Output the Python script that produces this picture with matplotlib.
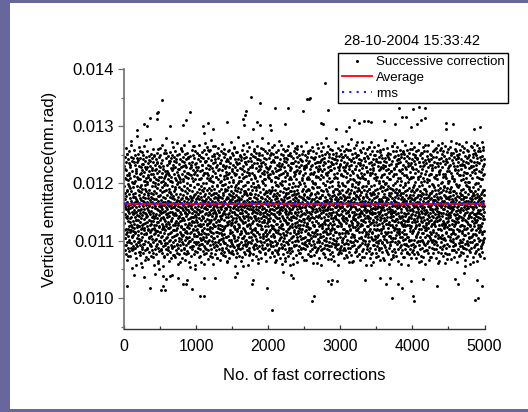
"""Vertical emittance after successive fast corrections (Origin-style export)."""
import numpy as np
import matplotlib

matplotlib.use("Agg")
import matplotlib.pyplot as plt
from matplotlib.lines import Line2D
from matplotlib.patches import Rectangle

# Dense band of measurements: emittance offset above BASE, in units of STEP.
# band_* and band2_* cover the same 1000 corrections, interleaved.
BASE = 0.0100
STEP = 1e-5

band_0k = [
    172, 131, 196, 158, 104, 183, 147, 226, 163, 121, 178, 92, 155, 207, 139, 168, 251, 144, 187, 116, 160, 73, 199, 152, 134,
    181, 126, 163, 214, 148, 97, 175, 139, 192, 157, 232, 119, 170, 141, 268, 186, 128, 151, 108, 165, 203, 84, 159, 177, 135,
    146, 193, 117, 162, 238, 154, 129, 176, 201, 142, 88, 167, 184, 113, 150, 221, 136, 173, 57, 158, 196, 124, 145, 244, 169,
    153, 110, 188, 137, 166, 209, 98, 179, 143, 161, 125, 256, 174, 149, 194, 132, 81, 171, 218, 156, 140, 185, 102, 164, 127,
    190, 145, 122, 170, 234, 151, 177, 94, 160, 138, 205, 182, 118, 155, 66, 174, 197, 131, 148, 228, 163, 112, 186, 142, 276,
    157, 133, 199, 167, 86, 144, 212, 175, 121, 153, 180, 106, 162, 241, 136, 189, 150, 127, 171, 95, 208, 146, 165, 119, 183,
    130, 176, 152, 224, 141, 168, 103, 195, 158, 135, 79, 181, 149, 216, 164, 123, 172, 248, 139, 187, 157, 114, 161, 200, 143,
    166, 91, 184, 147, 128, 173, 236, 155, 117, 192, 140, 169, 61, 154, 206, 133, 178, 99, 160, 145, 222, 126, 188, 151, 262,
    137, 179, 115, 159, 202, 148, 171, 85, 163, 130, 194, 156, 109, 185, 142, 231, 167, 124, 150, 176, 71, 198, 138, 162, 120,
    174, 152, 213, 134, 96, 167, 146, 189, 158, 253, 126, 180, 141, 164, 107, 197, 155, 132, 219, 170, 148, 83, 185, 160, 129,
    143, 191, 122, 168, 239, 150, 176, 101, 157, 137, 205, 182, 116, 162, 273, 139, 174, 151, 89, 195, 127, 166, 227, 147, 178,
    159, 118, 186, 145, 75, 172, 131, 210, 163, 149, 190, 110, 156, 243, 135, 181, 167, 123, 154, 199, 93, 171, 140, 215, 153,
    128, 177, 161, 105, 193, 144, 169, 226, 134, 158, 182, 63, 150, 203, 125, 173, 146, 260, 165, 112, 188, 139, 157, 98, 175,
    162, 140, 208, 153, 120, 179, 87, 164, 196, 136, 170, 233, 148, 115, 186, 158, 129, 174, 77, 155, 211, 143, 167, 104, 192,
    147, 183, 124, 160, 246, 138, 172, 154, 100, 189, 131, 166, 217, 151, 178, 113, 163, 54, 198, 142, 175, 127, 157, 229, 169,
    135, 171, 155, 90, 187, 149, 121, 176, 204, 141, 164, 265, 132, 180, 152, 108, 193, 145, 168, 82, 159, 220, 137, 173, 150,
]
band_1k = [
    168, 142, 119, 185, 156, 223, 133, 174, 97, 161, 199, 147, 128, 178, 250, 153, 112, 190, 139, 166, 74, 183, 150, 207, 125,
    159, 176, 136, 94, 195, 162, 117, 144, 232, 171, 152, 103, 187, 130, 165, 214, 141, 178, 59, 157, 123, 192, 146, 169, 240,
    134, 181, 158, 111, 200, 149, 173, 86, 163, 127, 219, 155, 189, 138, 167, 99, 176, 145, 258, 160, 121, 184, 151, 206, 131,
    172, 146, 209, 124, 161, 188, 78, 154, 137, 179, 115, 196, 164, 143, 227, 170, 129, 157, 182, 105, 148, 266, 175, 138, 160,
    154, 191, 126, 167, 242, 140, 177, 151, 92, 184, 133, 162, 211, 147, 116, 174, 198, 158, 69, 171, 136, 223, 153, 180, 122,
    187, 134, 165, 101, 150, 203, 143, 177, 128, 159, 236, 168, 113, 190, 156, 139, 175, 84, 161, 197, 145, 126, 183, 253, 149,
    163, 118, 179, 152, 213, 137, 170, 96, 186, 146, 157, 125, 199, 166, 230, 141, 172, 107, 155, 189, 64, 164, 132, 177, 209,
    142, 175, 160, 129, 193, 80, 168, 148, 218, 135, 181, 154, 114, 171, 245, 158, 127, 186, 144, 167, 102, 195, 151, 137, 173,
    178, 131, 202, 157, 91, 165, 140, 183, 124, 262, 150, 176, 161, 109, 188, 146, 215, 169, 133, 155, 72, 180, 139, 197, 163,
    145, 186, 120, 171, 234, 153, 130, 176, 159, 88, 192, 142, 166, 205, 127, 174, 149, 111, 185, 138, 248, 160, 173, 117, 156,
    190, 137, 161, 225, 148, 104, 178, 154, 131, 196, 167, 56, 144, 182, 158, 121, 212, 170, 140, 163, 95, 186, 152, 238, 133,
    166, 150, 114, 184, 143, 171, 203, 125, 157, 270, 179, 136, 162, 98, 191, 147, 174, 129, 219, 155, 168, 82, 183, 141, 160,
    127, 175, 155, 196, 106, 163, 139, 181, 229, 148, 170, 118, 188, 152, 76, 166, 135, 201, 159, 177, 144, 110, 193, 256, 150,
    181, 143, 167, 123, 210, 156, 92, 174, 137, 189, 161, 242, 130, 172, 149, 115, 197, 153, 168, 68, 179, 140, 224, 158, 135,
    159, 194, 128, 170, 100, 151, 185, 146, 236, 163, 120, 177, 139, 204, 155, 87, 174, 160, 132, 190, 149, 261, 165, 112, 182,
    144, 168, 208, 136, 157, 79, 183, 151, 126, 173, 197, 141, 164, 108, 186, 154, 227, 131, 170, 147, 93, 178, 161, 214, 138,
]
band_2k = [
    161, 134, 189, 152, 116, 175, 227, 145, 168, 99, 183, 140, 156, 206, 128, 171, 254, 149, 186, 122, 164, 81, 193, 155, 137,
    178, 147, 125, 166, 239, 153, 181, 108, 160, 135, 212, 172, 119, 188, 143, 62, 167, 198, 130, 157, 221, 142, 175, 96, 150,
    139, 184, 158, 113, 195, 163, 76, 170, 146, 231, 124, 179, 152, 201, 134, 165, 104, 187, 148, 268, 159, 127, 173, 216, 144,
    171, 129, 197, 154, 88, 168, 140, 185, 121, 159, 244, 176, 136, 162, 110, 192, 150, 178, 70, 155, 205, 133, 181, 146, 164,
    152, 190, 115, 174, 142, 218, 160, 97, 183, 131, 168, 250, 147, 123, 176, 157, 199, 138, 84, 169, 153, 228, 126, 187, 141,
    186, 137, 163, 208, 149, 107, 179, 155, 130, 194, 166, 59, 144, 173, 236, 158, 118, 182, 141, 162, 92, 196, 151, 177, 131,
    148, 170, 124, 181, 161, 222, 139, 175, 101, 156, 189, 145, 265, 167, 128, 184, 150, 114, 171, 203, 136, 160, 79, 178, 157,
    165, 143, 199, 127, 157, 86, 176, 152, 241, 134, 168, 120, 187, 159, 210, 146, 173, 105, 191, 138, 164, 226, 149, 66, 180,
    133, 182, 158, 117, 195, 147, 171, 233, 125, 163, 93, 186, 154, 140, 177, 207, 129, 168, 151, 257, 112, 175, 144, 190, 160,
    174, 151, 102, 188, 136, 165, 217, 148, 179, 123, 159, 74, 183, 146, 169, 230, 132, 157, 194, 141, 172, 109, 162, 201, 127,
    156, 192, 140, 172, 89, 160, 126, 181, 247, 150, 167, 116, 199, 143, 176, 135, 213, 155, 61, 170, 152, 185, 119, 164, 238,
    142, 168, 211, 131, 183, 157, 98, 174, 145, 193, 162, 128, 225, 153, 177, 106, 188, 139, 166, 271, 148, 180, 122, 159, 85,
    180, 126, 164, 200, 150, 115, 186, 141, 169, 237, 133, 158, 77, 176, 154, 197, 137, 163, 121, 190, 147, 216, 171, 100, 155,
    153, 187, 137, 171, 111, 159, 220, 144, 182, 127, 168, 90, 193, 149, 161, 252, 131, 175, 156, 118, 202, 140, 173, 68, 164,
    169, 145, 196, 122, 178, 155, 234, 134, 162, 103, 185, 151, 140, 209, 166, 129, 180, 94, 158, 191, 143, 172, 116, 243, 150,
    138, 176, 159, 92, 190, 147, 169, 210, 125, 163, 181, 58, 153, 136, 198, 172, 114, 186, 145, 228, 160, 131, 177, 83, 167,
]
band_3k = [
    157, 183, 129, 168, 215, 146, 174, 102, 189, 139, 161, 247, 152, 120, 180, 143, 198, 165, 87, 171, 135, 223, 156, 178, 113,
    172, 140, 196, 154, 75, 166, 131, 185, 233, 148, 177, 117, 160, 203, 137, 170, 95, 191, 150, 162, 259, 126, 181, 145, 168,
    143, 177, 121, 163, 208, 155, 183, 98, 171, 134, 241, 158, 188, 127, 166, 63, 151, 195, 142, 175, 110, 160, 219, 138, 184,
    185, 150, 167, 106, 194, 138, 226, 159, 173, 124, 155, 82, 180, 147, 203, 165, 132, 187, 272, 153, 118, 176, 141, 164, 199,
    131, 164, 188, 147, 91, 172, 156, 210, 125, 179, 143, 168, 236, 152, 104, 185, 160, 137, 194, 71, 169, 149, 213, 128, 174,
    160, 195, 136, 176, 153, 244, 119, 165, 189, 145, 99, 170, 157, 207, 132, 181, 163, 115, 150, 229, 178, 85, 143, 187, 154,
    176, 125, 162, 201, 140, 168, 107, 190, 152, 264, 134, 173, 148, 120, 184, 160, 218, 139, 167, 57, 156, 195, 131, 179, 146,
    150, 182, 113, 171, 223, 157, 185, 136, 93, 164, 148, 197, 127, 174, 250, 155, 168, 103, 189, 142, 161, 212, 133, 78, 177,
    166, 138, 190, 157, 120, 178, 144, 238, 161, 100, 183, 151, 170, 129, 205, 147, 173, 88, 159, 192, 136, 167, 255, 150, 118,
    139, 173, 154, 211, 131, 186, 162, 96, 169, 145, 227, 176, 123, 158, 193, 140, 67, 181, 153, 164, 109, 199, 147, 176, 230,
    188, 147, 169, 112, 163, 200, 136, 175, 155, 81, 190, 142, 166, 246, 129, 172, 151, 115, 184, 159, 207, 133, 179, 98, 156,
    152, 178, 127, 192, 148, 168, 221, 141, 183, 105, 160, 137, 174, 266, 153, 124, 188, 163, 143, 198, 72, 170, 150, 216, 134,
    171, 135, 160, 185, 97, 176, 152, 234, 128, 167, 190, 146, 116, 180, 157, 204, 138, 162, 86, 174, 149, 242, 165, 121, 187,
    144, 189, 158, 117, 197, 164, 140, 179, 209, 132, 155, 60, 173, 151, 183, 128, 166, 225, 142, 177, 106, 160, 193, 137, 169,
    183, 130, 172, 149, 251, 161, 111, 186, 143, 168, 200, 125, 157, 92, 179, 146, 214, 170, 135, 163, 189, 80, 154, 174, 138,
    161, 148, 203, 134, 176, 158, 101, 192, 141, 169, 232, 122, 180, 153, 165, 69, 187, 145, 174, 126, 210, 156, 133, 261, 172,
]
band_4k = [
    146, 179, 163, 118, 193, 152, 225, 137, 171, 89, 185, 158, 132, 202, 166, 145, 249, 174, 127, 160, 107, 188, 150, 176, 140,
    167, 191, 134, 158, 211, 143, 76, 180, 155, 121, 196, 168, 147, 238, 130, 173, 161, 99, 186, 141, 164, 219, 152, 65, 178,
    139, 162, 197, 149, 113, 184, 157, 230, 126, 170, 142, 181, 94, 159, 205, 136, 175, 153, 267, 148, 118, 190, 165, 131, 182,
    175, 154, 128, 187, 166, 83, 151, 208, 138, 177, 160, 243, 123, 169, 145, 195, 108, 163, 180, 135, 216, 156, 172, 72, 148,
    158, 136, 183, 162, 102, 175, 144, 199, 227, 153, 129, 187, 167, 116, 150, 256, 171, 141, 193, 86, 164, 178, 132, 209, 155,
    189, 146, 171, 125, 214, 160, 139, 181, 97, 168, 152, 235, 134, 176, 157, 110, 198, 147, 61, 173, 162, 222, 128, 184, 143,
    151, 177, 120, 166, 192, 138, 262, 158, 174, 105, 185, 149, 163, 130, 203, 170, 143, 90, 189, 156, 217, 135, 168, 180, 124,
    170, 131, 196, 155, 79, 178, 161, 128, 213, 146, 186, 240, 139, 165, 114, 192, 152, 174, 133, 68, 159, 201, 145, 176, 160,
    135, 185, 149, 172, 231, 127, 163, 190, 101, 157, 141, 178, 254, 150, 120, 194, 167, 137, 209, 159, 84, 173, 153, 187, 118,
    180, 156, 114, 169, 147, 204, 134, 186, 161, 92, 175, 145, 224, 165, 129, 183, 152, 270, 140, 171, 106, 196, 158, 138, 178,
    147, 193, 160, 132, 245, 154, 177, 117, 168, 143, 198, 74, 183, 151, 164, 214, 126, 172, 141, 189, 157, 98, 179, 234, 136,
    164, 128, 180, 153, 207, 140, 173, 87, 190, 158, 121, 167, 232, 145, 176, 110, 185, 149, 163, 56, 197, 134, 170, 155, 218,
    176, 150, 123, 195, 161, 96, 182, 139, 170, 246, 130, 157, 191, 145, 166, 104, 203, 174, 127, 160, 81, 187, 148, 229, 169,
    142, 187, 165, 109, 178, 151, 220, 134, 173, 159, 193, 63, 155, 183, 140, 168, 258, 125, 179, 147, 112, 199, 162, 136, 174,
    186, 133, 159, 200, 144, 118, 176, 165, 237, 149, 181, 95, 170, 127, 190, 154, 141, 210, 163, 77, 178, 148, 172, 124, 195,
    153, 172, 139, 182, 91, 166, 208, 147, 175, 131, 160, 226, 185, 115, 156, 169, 264, 143, 188, 102, 161, 138, 180, 216, 150,
]

band2_0k = [
    93, 231, 118, 247, 172, 84, 209, 105, 262, 141, 77, 224, 112, 238, 189, 98, 215, 66, 251, 121, 156, 88, 206, 109, 243,
    219, 101, 256, 82, 195, 236, 115, 73, 228, 133, 210, 96, 274, 119, 247, 87, 164, 222, 107, 52, 240, 124, 201, 91, 181,
    110, 245, 86, 213, 148, 99, 258, 122, 232, 79, 205, 176, 116, 249, 94, 226, 137, 70, 218, 104, 283, 127, 237, 90, 211,
    252, 97, 208, 117, 241, 81, 186, 230, 103, 264, 125, 217, 75, 153, 244, 92, 207, 113, 229, 61, 198, 120, 255, 85, 223,
    106, 234, 89, 250, 130, 213, 78, 242, 111, 168, 220, 95, 266, 123, 204, 83, 239, 100, 191, 226, 72, 246, 114, 146, 209,
    229, 87, 202, 126, 257, 98, 235, 68, 214, 119, 183, 248, 105, 221, 80, 160, 240, 93, 206, 277, 116, 231, 74, 252, 135,
    91, 216, 108, 244, 174, 84, 227, 121, 260, 97, 203, 143, 71, 238, 112, 212, 58, 250, 128, 223, 102, 195, 86, 233, 118,
    243, 103, 225, 76, 207, 132, 254, 94, 218, 117, 237, 65, 199, 110, 261, 88, 178, 230, 124, 211, 82, 247, 99, 152, 228,
    115, 249, 83, 212, 139, 96, 235, 107, 268, 78, 219, 163, 120, 241, 90, 204, 126, 55, 226, 101, 253, 113, 210, 187, 73,
    222, 92, 259, 118, 200, 85, 244, 129, 216, 104, 280, 96, 233, 147, 77, 221, 111, 248, 89, 208, 170, 123, 239, 64, 214,
    100, 236, 124, 205, 81, 255, 114, 185, 227, 93, 245, 69, 211, 134, 250, 106, 224, 87, 202, 118, 263, 97, 232, 158, 75,
    247, 108, 217, 90, 240, 127, 71, 229, 102, 257, 194, 119, 206, 84, 238, 145, 95, 270, 112, 220, 79, 249, 131, 203, 60,
    88, 225, 141, 252, 99, 212, 76, 234, 115, 166, 243, 92, 208, 124, 262, 83, 229, 103, 190, 216, 70, 240, 109, 256, 137,
    231, 94, 246, 110, 205, 86, 268, 121, 221, 78, 237, 150, 101, 213, 67, 251, 117, 229, 92, 176, 242, 106, 218, 82, 200,
    113, 254, 79, 219, 128, 244, 96, 210, 62, 235, 107, 275, 123, 197, 89, 227, 139, 248, 100, 214, 74, 232, 116, 161, 258,
    209, 85, 238, 132, 103, 250, 118, 223, 90, 265, 142, 76, 216, 111, 245, 97, 182, 234, 57, 207, 125, 257, 94, 228, 108,
]
band2_1k = [
    236, 97, 214, 121, 253, 80, 199, 109, 242, 147, 88, 228, 116, 267, 93, 207, 173, 72, 249, 104, 221, 130, 85, 239, 112,
    101, 247, 126, 210, 63, 233, 95, 255, 118, 188, 224, 82, 244, 107, 201, 140, 76, 259, 114, 218, 91, 169, 237, 99, 271,
    218, 87, 240, 106, 227, 155, 78, 251, 120, 209, 96, 263, 129, 233, 68, 215, 111, 245, 84, 192, 225, 102, 256, 136, 74,
    117, 230, 92, 258, 133, 205, 85, 241, 109, 276, 100, 213, 165, 71, 248, 122, 222, 94, 236, 59, 203, 113, 252, 89, 184,
    248, 104, 219, 77, 238, 125, 266, 97, 211, 144, 83, 229, 116, 254, 90, 196, 232, 108, 70, 244, 127, 208, 98, 262, 151,
    86, 226, 113, 250, 177, 94, 235, 66, 215, 120, 257, 103, 204, 138, 79, 241, 110, 223, 88, 269, 119, 197, 75, 231, 105,
    233, 99, 261, 123, 207, 81, 246, 112, 190, 227, 73, 252, 96, 214, 157, 106, 239, 87, 220, 62, 243, 128, 210, 93, 257,
    108, 240, 84, 217, 146, 258, 101, 229, 69, 202, 118, 247, 91, 180, 236, 114, 273, 78, 212, 131, 98, 253, 115, 225, 82,
    221, 95, 249, 110, 232, 76, 206, 159, 126, 264, 89, 218, 105, 242, 56, 228, 120, 194, 100, 255, 84, 216, 134, 238, 92,
    102, 255, 79, 224, 117, 200, 90, 243, 107, 281, 171, 95, 235, 124, 211, 73, 250, 112, 227, 86, 149, 246, 98, 204, 65,
    241, 113, 216, 88, 259, 135, 71, 230, 104, 209, 92, 268, 122, 186, 245, 80, 222, 109, 252, 99, 198, 117, 237, 77, 213,
    90, 234, 101, 247, 162, 83, 220, 127, 256, 95, 203, 58, 239, 114, 226, 142, 87, 263, 106, 215, 75, 244, 123, 181, 97,
    228, 78, 251, 115, 207, 96, 240, 67, 219, 131, 274, 102, 232, 154, 89, 248, 111, 201, 85, 236, 121, 260, 93, 214, 108,
    119, 246, 94, 212, 139, 227, 73, 254, 103, 193, 235, 87, 266, 116, 205, 99, 243, 61, 221, 128, 168, 250, 82, 230, 112,
    254, 91, 226, 107, 241, 81, 213, 125, 262, 97, 176, 231, 70, 249, 120, 218, 93, 279, 109, 200, 143, 86, 238, 104, 222,
    98, 217, 132, 245, 76, 234, 115, 257, 88, 208, 153, 101, 229, 64, 242, 118, 185, 253, 95, 220, 111, 271, 84, 211, 126,
]
band2_2k = [
    225, 103, 244, 86, 210, 134, 258, 95, 231, 72, 216, 119, 249, 163, 90, 237, 108, 204, 79, 263, 125, 222, 98, 188, 241,
    112, 252, 91, 219, 147, 74, 238, 106, 268, 121, 203, 84, 246, 99, 227, 178, 67, 255, 115, 212, 93, 233, 130, 197, 81,
    247, 96, 223, 118, 258, 83, 209, 140, 236, 102, 275, 88, 214, 156, 111, 243, 70, 226, 123, 251, 94, 199, 107, 230, 60,
    89, 234, 127, 205, 100, 249, 76, 218, 114, 261, 171, 92, 240, 105, 228, 65, 212, 136, 256, 86, 221, 117, 245, 97, 183,
    238, 110, 259, 80, 215, 129, 242, 95, 192, 232, 73, 266, 120, 207, 88, 250, 150, 101, 224, 78, 253, 113, 211, 58, 236,
    104, 227, 87, 248, 166, 97, 235, 124, 270, 82, 201, 109, 244, 141, 69, 220, 116, 257, 91, 213, 186, 126, 239, 100, 262,
    216, 93, 254, 112, 231, 75, 208, 133, 246, 106, 223, 63, 260, 117, 195, 99, 237, 84, 218, 160, 122, 249, 90, 229, 108,
    120, 243, 78, 222, 103, 266, 145, 88, 233, 115, 206, 96, 252, 71, 240, 128, 214, 174, 105, 257, 87, 227, 138, 201, 94,
    231, 85, 250, 107, 219, 158, 97, 241, 67, 228, 118, 272, 101, 210, 90, 246, 131, 189, 113, 235, 77, 254, 124, 212, 102,
    96, 239, 121, 208, 82, 258, 110, 225, 139, 73, 247, 104, 219, 181, 92, 264, 116, 232, 86, 204, 152, 100, 244, 61, 217,
    257, 114, 220, 94, 243, 127, 75, 236, 108, 200, 164, 89, 253, 119, 228, 80, 212, 135, 269, 98, 238, 111, 193, 84, 226,
    87, 221, 103, 262, 143, 99, 230, 70, 248, 125, 207, 91, 237, 174, 112, 256, 83, 215, 106, 241, 57, 222, 130, 250, 96,
    242, 109, 233, 79, 211, 154, 263, 101, 226, 88, 244, 117, 198, 72, 235, 129, 252, 93, 219, 167, 105, 279, 115, 205, 85,
    111, 255, 92, 214, 122, 240, 68, 228, 137, 266, 98, 209, 83, 247, 179, 114, 231, 76, 260, 104, 223, 148, 90, 238, 119,
    223, 81, 245, 128, 205, 96, 259, 110, 186, 234, 74, 251, 121, 216, 64, 243, 102, 227, 142, 89, 272, 116, 211, 95, 248,
    99, 236, 115, 254, 86, 218, 170, 105, 241, 77, 229, 126, 262, 94, 202, 133, 248, 80, 224, 112, 195, 258, 88, 233, 107,
]
band2_3k = [
    234, 90, 217, 126, 252, 78, 241, 113, 200, 159, 97, 265, 105, 228, 84, 246, 136, 213, 69, 238, 120, 257, 94, 222, 175,
    108, 250, 83, 229, 140, 211, 96, 261, 117, 187, 236, 71, 247, 102, 218, 152, 88, 269, 114, 204, 80, 243, 128, 231, 62,
    226, 100, 258, 87, 214, 168, 119, 240, 75, 233, 106, 277, 131, 199, 91, 251, 111, 221, 64, 245, 124, 208, 97, 262, 145,
    93, 237, 110, 206, 81, 254, 137, 225, 102, 246, 178, 85, 230, 118, 267, 73, 215, 127, 249, 99, 192, 235, 89, 212, 122,
    249, 116, 224, 77, 243, 104, 203, 149, 259, 92, 232, 66, 218, 129, 255, 107, 185, 241, 82, 227, 115, 272, 96, 210, 134,
    101, 233, 86, 262, 120, 216, 72, 245, 161, 109, 239, 94, 207, 139, 253, 79, 229, 112, 196, 58, 248, 125, 221, 90, 260,
    220, 95, 244, 112, 205, 143, 263, 82, 236, 117, 191, 99, 251, 70, 226, 130, 214, 87, 273, 106, 238, 155, 76, 232, 103,
    115, 256, 79, 219, 133, 242, 101, 227, 63, 209, 121, 264, 92, 182, 234, 108, 250, 85, 216, 148, 118, 243, 98, 206, 71,
    239, 106, 212, 91, 256, 127, 74, 231, 110, 268, 165, 96, 223, 119, 247, 83, 200, 142, 258, 102, 226, 67, 237, 113, 195,
    87, 228, 121, 250, 98, 215, 157, 80, 244, 109, 233, 69, 260, 126, 205, 93, 240, 135, 217, 103, 276, 89, 230, 116, 201,
    245, 102, 223, 84, 238, 130, 262, 97, 211, 173, 114, 249, 77, 226, 123, 196, 253, 88, 219, 60, 242, 108, 232, 141, 92,
    109, 251, 93, 208, 146, 234, 68, 222, 115, 266, 99, 240, 127, 190, 82, 256, 105, 213, 150, 75, 247, 118, 225, 86, 270,
    227, 81, 248, 123, 200, 104, 257, 138, 230, 73, 216, 110, 263, 94, 184, 241, 120, 209, 65, 250, 132, 236, 100, 223, 111,
    97, 242, 114, 259, 89, 221, 162, 107, 237, 78, 252, 131, 204, 92, 246, 116, 274, 84, 218, 144, 101, 233, 125, 255, 72,
    256, 119, 214, 95, 244, 71, 229, 134, 267, 103, 198, 86, 240, 112, 225, 170, 94, 258, 79, 211, 127, 248, 106, 235, 57,
    90, 231, 106, 253, 128, 207, 99, 245, 76, 220, 153, 117, 261, 85, 236, 139, 212, 101, 271, 93, 227, 113, 189, 243, 81,
]
band2_4k = [
    229, 94, 251, 117, 212, 83, 240, 138, 263, 101, 197, 76, 234, 122, 247, 90, 218, 160, 109, 257, 69, 226, 126, 243, 98,
    112, 244, 80, 221, 151, 99, 258, 115, 207, 62, 237, 128, 270, 93, 213, 179, 86, 249, 107, 230, 74, 253, 120, 202, 135,
    253, 102, 226, 88, 245, 133, 210, 71, 238, 114, 264, 97, 191, 124, 232, 82, 256, 106, 217, 146, 92, 241, 59, 222, 118,
    84, 235, 123, 257, 96, 203, 167, 110, 248, 78, 228, 131, 267, 100, 215, 89, 240, 141, 206, 66, 252, 116, 183, 233, 104,
    242, 111, 217, 72, 250, 125, 232, 98, 275, 155, 87, 224, 119, 246, 102, 198, 79, 259, 129, 211, 95, 238, 171, 108, 261,
    99, 228, 134, 247, 85, 214, 113, 262, 70, 236, 142, 207, 93, 255, 121, 188, 231, 104, 268, 81, 220, 137, 243, 64, 216,
    236, 89, 259, 106, 223, 163, 78, 244, 118, 200, 97, 271, 127, 229, 86, 252, 110, 212, 148, 73, 239, 103, 257, 122, 194,
    105, 248, 92, 216, 130, 266, 101, 234, 61, 209, 115, 243, 174, 88, 255, 124, 222, 95, 238, 76, 204, 139, 260, 109, 227,
    221, 77, 244, 120, 205, 91, 263, 145, 232, 107, 185, 68, 250, 112, 219, 99, 274, 129, 241, 84, 213, 158, 103, 236, 90,
    116, 254, 98, 230, 71, 246, 126, 208, 84, 261, 111, 225, 166, 94, 243, 133, 199, 80, 256, 105, 231, 63, 218, 121, 249,
    247, 108, 223, 86, 238, 140, 269, 96, 214, 119, 251, 75, 233, 153, 102, 258, 90, 206, 127, 242, 81, 226, 113, 265, 97,
    91, 233, 117, 255, 79, 215, 103, 240, 177, 125, 262, 88, 220, 110, 248, 67, 229, 136, 203, 95, 273, 120, 237, 85, 210,
    258, 100, 219, 132, 245, 74, 236, 114, 202, 92, 257, 143, 227, 83, 250, 106, 193, 60, 241, 126, 214, 98, 266, 118, 230,
    106, 240, 87, 263, 121, 209, 159, 97, 252, 72, 231, 112, 246, 180, 89, 224, 131, 270, 101, 237, 78, 218, 147, 254, 93,
    232, 82, 249, 110, 226, 95, 268, 137, 211, 65, 244, 123, 200, 104, 257, 150, 86, 235, 115, 262, 99, 221, 73, 247, 128,
    119, 256, 102, 220, 168, 88, 241, 126, 273, 94, 207, 80, 248, 112, 230, 138, 259, 98, 215, 70, 243, 117, 189, 234, 105,
]

# Isolated points above the band: correction number and emittance (nm.rad)
high_x = [184, 277, 324, 360, 453, 462, 476, 531, 638, 814, 855, 915, 1091, 1115, 1169,
          1238, 1429, 1655, 1660, 1679, 1692, 1762, 1794, 1849, 1886, 1892, 2025, 2043,
          2098, 2233, 2279, 2486, 2534, 2570, 2578, 2732, 2760, 2788, 2834, 2941, 3075,
          3125, 3190, 3265, 3329, 3389, 3430, 3606, 3758, 3819, 3851, 3911, 3980, 4015,
          4068, 4091, 4124, 4175, 4180, 4466, 4470, 4568, 4854, 4938]
high_y = [0.01294, 0.01304, 0.01300, 0.01314, 0.01312, 0.01323, 0.01325, 0.01345, 0.01301,
          0.01302, 0.01311, 0.01324, 0.01300, 0.01289, 0.01305, 0.01296, 0.01308, 0.01312,
          0.01303, 0.01319, 0.01326, 0.01351, 0.01295, 0.01308, 0.01340, 0.01303, 0.01302,
          0.01293, 0.01331, 0.01304, 0.01331, 0.01327, 0.01348, 0.01347, 0.01349, 0.01306,
          0.01304, 0.01376, 0.01328, 0.01295, 0.01292, 0.01299, 0.01311, 0.01306, 0.01309,
          0.01310, 0.01308, 0.01309, 0.01304, 0.01331, 0.01316, 0.01316, 0.01298, 0.01330,
          0.01304, 0.01333, 0.01311, 0.01331, 0.01314, 0.01306, 0.01295, 0.01304, 0.01295,
          0.01299]

# Isolated points below the band
low_x = [46, 139, 245, 282, 361, 430, 490, 518, 537, 573, 545, 583, 638, 670, 753, 814,
         856, 870, 947, 985, 1054, 1110, 1115, 1262, 1540, 1563, 1771, 1785, 1979, 2049,
         2210, 2312, 2348, 2603, 2635, 2834, 2867, 2889, 2959, 3343, 3551, 3634, 3689,
         3713, 3805, 3852, 3977, 4013, 4018, 4151, 4346, 4591, 4637, 4716, 4868, 4892,
         4914, 4961]
low_y = [0.01021, 0.01040, 0.01054, 0.01036, 0.01017, 0.01042, 0.01050, 0.01014, 0.01021,
         0.01014, 0.01039, 0.01033, 0.01039, 0.01040, 0.01035, 0.01025, 0.01024, 0.01032,
         0.01015, 0.01050, 0.01004, 0.01003, 0.01035, 0.01035, 0.01037, 0.01043, 0.01025,
         0.01031, 0.01018, 0.00979, 0.01046, 0.01040, 0.01034, 0.00995, 0.01004, 0.01029,
         0.01024, 0.01031, 0.01030, 0.01032, 0.01035, 0.01025, 0.01035, 0.01000, 0.01025,
         0.01018, 0.01029, 0.01004, 0.00995, 0.01033, 0.01021, 0.01033, 0.01024, 0.01043,
         0.00997, 0.01032, 0.01000, 0.01021]

average = 0.011645
rms = 0.011655
stamp = "28-10-2004 15:33:42"

x_ticks = [0, 1000, 2000, 3000, 4000, 5000]
y_ticks = [0.010, 0.011, 0.012, 0.013, 0.014]
y_tick_labels = ["0.010", "0.011", "0.012", "0.013", "0.014"]

plt.rcParams["font.family"] = ["Liberation Sans", "DejaVu Sans"]

fig = plt.figure(figsize=(5.28, 4.12), dpi=100, facecolor="#67679b")
# white page inside the slide-coloured frame
fig.patches.append(
    Rectangle((10 / 528, 3 / 412), 1, 1 - 6 / 412, transform=fig.transFigure,
              facecolor="white", edgecolor="none", zorder=-10)
)

ax = fig.add_axes([124 / 528, 1 - 329.4 / 412, 360.5 / 528, 260.4 / 412])
ax.set_facecolor("none")

pts_x, pts_y = [high_x, low_x], [high_y, low_y]
segments = [(band_0k, band2_0k), (band_1k, band2_1k), (band_2k, band2_2k),
            (band_3k, band2_3k), (band_4k, band2_4k)]
for k, (seg_a, seg_b) in enumerate(segments):
    for shift, seg in ((0.0, seg_a), (0.5, seg_b)):
        spacing = 1000 / len(seg)
        pts_x.append(k * 1000 + (np.arange(len(seg)) + shift) * spacing)
        pts_y.append(BASE + np.asarray(seg) * STEP)
pts_x = np.concatenate(pts_x)
pts_y = np.concatenate(pts_y)

ax.plot(pts_x, pts_y, "o", color="black", ms=2.1, mew=0, zorder=2)
ax.plot([0, 5000], [average, average], color="#ff0000", lw=1.5, zorder=3)
ax.plot([0, 5000], [rms, rms], color="#1a1aff", lw=1.8, ls=(0, (1, 1.8)), zorder=4)

ax.set_xlim(0, 5000)
ax.set_ylim(0.00945, 0.0140)
ax.set_xticks(x_ticks)
ax.set_xticks(np.arange(500, 5000, 1000), minor=True)
ax.set_yticks(y_ticks)
ax.set_yticklabels(y_tick_labels)
ax.set_yticks([0.0095, 0.0105, 0.0115, 0.0125, 0.0135], minor=True)

for side in ("top", "right"):
    ax.spines[side].set_visible(False)
ax.spines["left"].set_color("#6e6e6e")
ax.spines["left"].set_linewidth(1.2)
ax.spines["bottom"].set_color("#333333")
ax.spines["bottom"].set_linewidth(1.0)

ax.tick_params(axis="x", which="major", direction="in", length=3, width=0.9,
               color="#333333", labelsize=11.5, pad=7)
ax.tick_params(axis="x", which="minor", direction="in", length=2, width=0.9, color="#333333")
ax.tick_params(axis="y", which="major", direction="out", length=4, width=0.9,
               color="#6e6e6e", labelsize=12, pad=3)
ax.tick_params(axis="y", which="minor", direction="out", length=2, width=0.9, color="#6e6e6e")

ax.set_xlabel("No. of fast corrections", fontsize=12)
ax.xaxis.set_label_coords(0.5, -0.149)
ax.set_ylabel("Vertical emittance(nm.rad)", fontsize=12)
ax.yaxis.set_label_coords(-0.186, 0.538)

fig.text(411.7 / 528, 1 - 45 / 412, stamp, ha="center", va="baseline", fontsize=10.5)

handles = [
    Line2D([], [], marker="o", ls="none", color="black", ms=2.2, mew=0),
    Line2D([], [], color="#ff0000", lw=1.3),
    Line2D([], [], color="#2020ff", lw=1.5, ls=(0, (1, 2.5))),
]
leg = ax.legend(handles, ["Successive correction", "Average", "rms"],
                loc="upper left", bbox_to_anchor=(338.3 / 528, 1 - 52.7 / 412),
                bbox_transform=fig.transFigure, borderaxespad=0, fontsize=9.5,
                handlelength=2.27, handletextpad=0.33, borderpad=0.27,
                labelspacing=0.25, fancybox=False, framealpha=1, edgecolor="black")
leg.get_frame().set_linewidth(1.0)

fig.savefig("out.png", dpi=100, facecolor=fig.get_facecolor())
